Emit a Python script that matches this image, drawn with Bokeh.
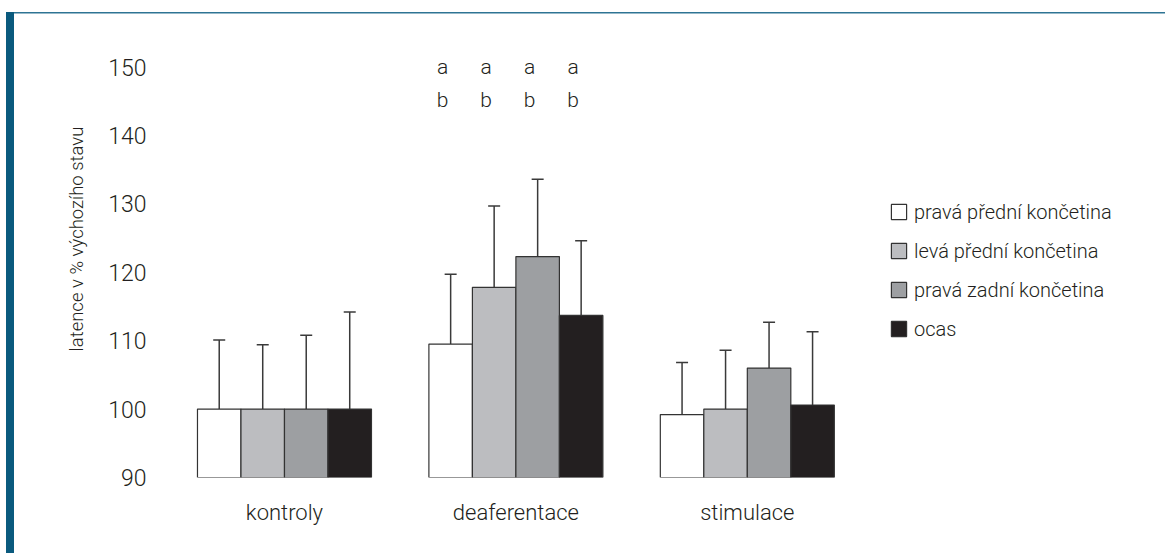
from bokeh.plotting import figure
from bokeh.models import (Range1d, FixedTicker, Legend, LegendItem, LabelSet,
                          ColumnDataSource, Whisker, TeeHead)
from bokeh.embed import file_html
from bokeh.resources import INLINE
from bokeh.core.properties import value

# ---------------- data ----------------
groups = ["kontroly", "deaferentace", "stimulace"]
series = ["pravá přední končetina", "levá přední končetina", "pravá zadní končetina", "ocas"]
colors = ["#ffffff", "#bcbdc0", "#9d9fa2", "#231f20"]

# mean latency (% of baseline) per series, in group order
means = {
    "pravá přední končetina": [100.0, 109.5, 99.2],
    "levá přední končetina":  [100.0, 117.8, 100.0],
    "pravá zadní končetina":  [100.0, 122.3, 106.0],
    "ocas":                   [100.0, 113.7, 100.6],
}
# standard deviations (upper error bar)
sds = {
    "pravá přední končetina": [10.1, 10.2, 7.6],
    "levá přední končetina":  [9.4, 11.9, 8.6],
    "pravá zadní končetina":  [10.8, 11.3, 6.7],
    "ocas":                   [14.2, 10.9, 10.7],
}
sig_group = "deaferentace"
sig_row1 = ["a", "a", "a", "a"]
sig_row2 = ["b", "b", "b", "b"]
y_ticks = [90, 100, 110, 120, 130, 140, 150]
y_title = "latence v % výchozího stavu"

# ---------------- layout constants ----------------
W, H = 1165, 553
GROUP_STEP = 5.32          # bar-width units between group starts
FRAME_L, FRAME_B, FRAME_T = 160, 76, 0
TEXT = "#231f20"
FONT = "Roboto Light"

p = figure(width=W, height=H, output_backend="svg", toolbar_location=None,
           x_range=Range1d(-1.35, -1.35 + (W - FRAME_L) / 43.5),
           y_range=Range1d(90, 90 + (H - FRAME_B - FRAME_T) / 6.84),
           min_border_left=FRAME_L, min_border_right=0,
           min_border_bottom=FRAME_B, min_border_top=FRAME_T)
p.outline_line_color = None
p.xgrid.grid_line_color = None
p.ygrid.grid_line_color = None
p.background_fill_alpha = 0
p.border_fill_alpha = 0
# decorative page frame: thick blue bar on the left and thin rule on top
p.styles = {
    "background-color": "white",
    "background-image": "linear-gradient(#0a5a7e, #0a5a7e), linear-gradient(#2e7494, #2e7494)",
    "background-position": "6px 12px, 14px 12px",
    "background-size": "8px 541px, 1151px 1.5px",
    "background-repeat": "no-repeat",
}

legend_items = []
for si, s in enumerate(series):
    xs = [gi * GROUP_STEP + si for gi in range(len(groups))]
    src = ColumnDataSource(dict(x=xs, top=means[s],
                                upper=[m + e for m, e in zip(means[s], sds[s])]))
    w = Whisker(source=src, base="x", lower="top", upper="upper", dimension="height",
                line_color="#3a3a3a", line_width=1.5,
                upper_head=TeeHead(size=12, line_color="#3a3a3a", line_width=1.5),
                lower_head=None)
    p.add_layout(w)
    r = p.vbar(x="x", top="top", bottom=90, width=1.0, source=src,
               fill_color=colors[si], line_color="#333333", line_width=1.2)
    legend_items.append(LegendItem(label=s, renderers=[r]))

# significance letters above deaferentace bars
gi = groups.index(sig_group)
sx = [gi * GROUP_STEP + si for si in range(len(series))]
sig_src = ColumnDataSource(dict(x=sx + sx, y=[150.0] * 4 + [145.2] * 4, t=sig_row1 + sig_row2))
p.add_layout(LabelSet(x="x", y="y", text="t", source=sig_src, x_offset=-8,
                      text_align="center", text_baseline="middle",
                      text_font=value(FONT), text_font_size=value("21px"), text_color=TEXT))

# axes
p.yaxis.ticker = FixedTicker(ticks=y_ticks)
p.yaxis.axis_line_color = None
p.yaxis.major_tick_line_color = None
p.yaxis.minor_tick_line_color = None
p.yaxis.major_tick_out = 0
p.yaxis.major_label_standoff = 14
p.yaxis.major_label_text_font = FONT
p.yaxis.major_label_text_font_size = "23px"
p.yaxis.major_label_text_color = TEXT
p.yaxis.axis_label = y_title
p.yaxis.axis_label_standoff = 17
p.yaxis.axis_label_text_font = FONT
p.yaxis.axis_label_text_font_style = "normal"
p.yaxis.axis_label_text_font_size = "18.5px"
p.yaxis.axis_label_text_color = TEXT

centers = [g * GROUP_STEP + 1.5 for g in range(len(groups))]
p.xaxis.ticker = FixedTicker(ticks=centers)
p.xaxis.major_label_overrides = {c: g for c, g in zip(centers, groups)}
p.xaxis.axis_line_color = None
p.xaxis.major_tick_line_color = None
p.xaxis.minor_tick_line_color = None
p.xaxis.major_tick_out = 0
p.xaxis.major_label_standoff = 22
p.xaxis.major_label_text_font = FONT
p.xaxis.major_label_text_font_size = "22px"
p.xaxis.major_label_text_color = TEXT

# legend
legend = Legend(items=legend_items, location=(889 - FRAME_L, (H - FRAME_B) - 340.5),
                glyph_width=19, glyph_height=19, label_height=19, spacing=15,
                padding=0, margin=0, label_standoff=6,
                border_line_alpha=0, background_fill_alpha=0,
                label_text_font=FONT, label_text_font_size="20px", label_text_color=TEXT)
p.add_layout(legend)

open("out.html", "w").write(file_html(p, INLINE))
